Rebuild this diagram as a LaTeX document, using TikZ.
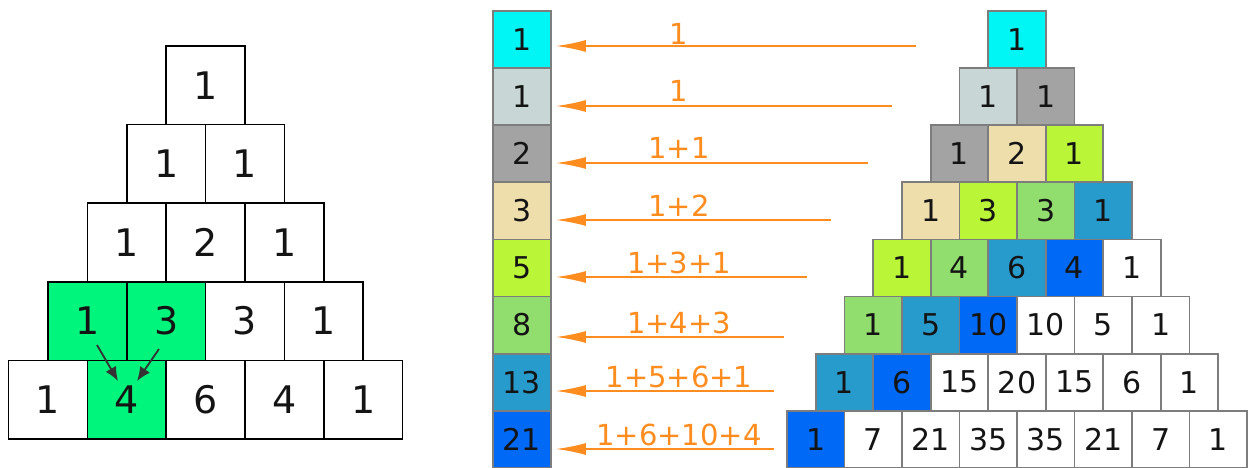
\documentclass[tikz,border=0pt]{standalone}
\usepackage{fontspec}
\setmainfont{DejaVu Sans}
\usetikzlibrary{arrows.meta,calc}
\definecolor{d0}{RGB}{0,245,245}
\definecolor{d1}{RGB}{200,214,214}
\definecolor{d2}{RGB}{163,163,163}
\definecolor{d3}{RGB}{238,222,172}
\definecolor{d4}{RGB}{187,245,55}
\definecolor{d5}{RGB}{145,222,110}
\definecolor{d6}{RGB}{40,155,205}
\definecolor{d7}{RGB}{0,105,245}
\colorlet{d8}{white}\colorlet{d9}{white}\colorlet{d10}{white}\colorlet{d11}{white}
\colorlet{d12}{white}\colorlet{d13}{white}\colorlet{d14}{white}
\definecolor{lgreen}{RGB}{0,245,125}
\definecolor{oline}{RGB}{255,140,30}
\definecolor{rborder}{RGB}{125,125,125}
\definecolor{txt}{RGB}{20,20,20}
\tikzset{
  lbox/.style={draw=black, line width=1.6pt, minimum width=78.8pt, minimum height=78.6pt,
    inner sep=0pt, text=txt, font=\fontsize{38}{38}\selectfont},
  rbox/.style={draw=rborder, line width=1.8pt, minimum width=57.5pt, minimum height=57.1pt,
    inner sep=0pt, text=txt, font=\fontsize{30}{30}\selectfont},
  cbox/.style={rbox, minimum width=58pt},
  oarrow/.style={draw=oline, line width=1.8pt, -{Latex[length=30pt,width=12pt]}},
  olabel/.style={text=oline, font=\fontsize{29}{29}\selectfont, anchor=base, inner sep=0pt},
  darrow/.style={draw=black!80, line width=1.8pt, -{Latex[length=14pt,width=12pt]}}
}
\begin{document}
\begin{tikzpicture}[x=1pt,y=-1pt]
\useasboundingbox (0,0) rectangle (1253,468);
% ---------- left triangle ----------
\foreach \row [count=\r from 0] in {{1},{1,1},{1,2,1},{1,3,3,1},{1,4,6,4,1}} {
  \foreach \v [count=\k from 0] in \row {
    \node[lbox] (L-\r-\k) at ({205.5+(\k-\r/2)*78.8},{46+78.6*\r+39.3}) {\v};
  }
}
\fill[lgreen] (L-3-0.north west) rectangle (L-3-1.south east);
\fill[lgreen] (L-4-1.north west) rectangle (L-4-1.south east);
\foreach \r/\k/\v in {3/0/1,3/1/3,4/1/4} {
  \node[lbox] at (L-\r-\k) {\v};
}
\coordinate (a1s) at (97,345);
\coordinate (a1e) at (118,381);
\coordinate (a2s) at (159,349);
\coordinate (a2e) at (137,381);
\draw[darrow] (a1s) -- (a1e);
\draw[darrow] (a2s) -- (a2e);
% ---------- column ----------
\foreach \v [count=\i from 0] in {1,1,2,3,5,8,13,21} {
  \node[cbox, fill=d\i] (C-\i) at (522,{11+57.1*(\i+0.5)}) {\v};
}
% ---------- right triangle ----------
\foreach \row [count=\r from 0] in {{1},{1,1},{1,2,1},{1,3,3,1},{1,4,6,4,1},{1,5,10,10,5,1},{1,6,15,20,15,6,1},{1,7,21,35,35,21,7,1}} {
  \foreach \v [count=\k from 0] in \row {
    \pgfmathtruncatemacro\dd{\r+\k}
    \node[rbox, fill=d\dd] (R-\r-\k) at ({1017+(\k-\r/2)*57.5},{11+57.1*(\r+0.5)}) {\v};
  }
}
% ---------- arrows ----------
\foreach \i/\ex/\ey/\lab/\ly in {0/916/46/1/45, 1/892/106/1/102, 2/868/163/1+1/159, 3/831/220/1+2/216,
    4/807/277/1+3+1/273, 5/784/337/1+4+3/333, 6/774/391/1+5+6+1/387, 7/774/449/1+6+10+4/445} {
  \coordinate (E-\i) at (\ex,\ey);
  \draw[oarrow] (E-\i) -- ($(C-\i.east |- E-\i)+(4,0)$);
  \node[olabel] (T-\i) at (679,\ly) {\lab};
}
\end{tikzpicture}
\end{document}
